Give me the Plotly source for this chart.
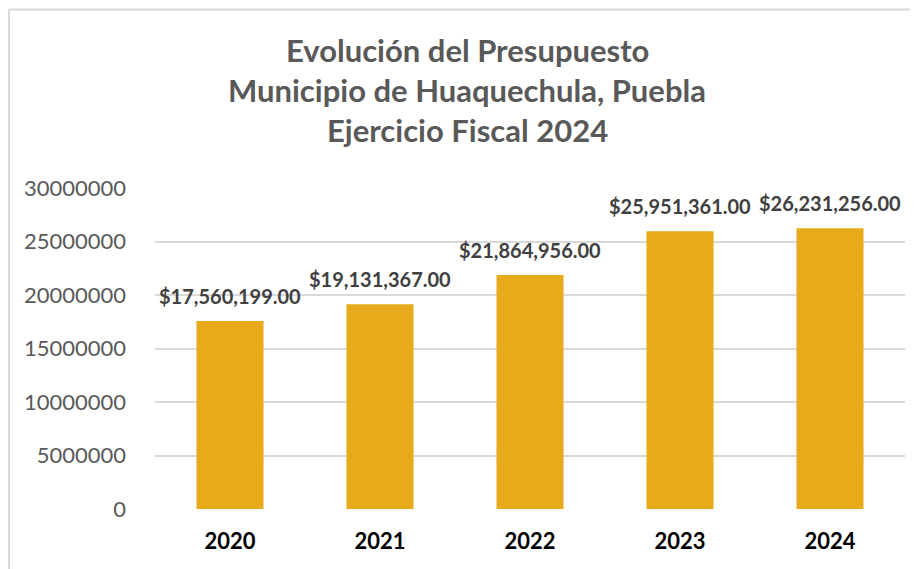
import plotly.graph_objects as go

years = ["2020", "2021", "2022", "2023", "2024"]
budget = [17560199.00, 19131367.00, 21864956.00, 25951361.00, 26231256.00]
y_ticks = [0, 5000000, 10000000, 15000000, 20000000, 25000000, 30000000]
title_lines = ["Evolución del Presupuesto",
               "Municipio de Huaquechula, Puebla",
               "Ejercicio Fiscal 2024"]

W, H = 918, 569
OFF = 8  # page offset of the figure (body margin)
# plot area in page pixels
PL, PR, PT, PB = 155, 905, 188, 509
L, R, T, B = PL - OFF, W - (PR - OFF), PT - OFF, H - (PB - OFF)
PW, PH = PR - PL, PB - PT

def px_x(p):
    return (p - PL) / PW

def px_y(p):
    return (PB - p) / PH

FONT = "Lato"

fig = go.Figure()
fig.add_trace(go.Bar(
    x=years, y=budget,
    marker=dict(color="#E6AA1B", line=dict(width=0)),
    hoverinfo="x+y",
))

annotations = []
for i, v in enumerate(budget):
    annotations.append(dict(
        x=i, y=v, xref="x", yref="y",
        text=f"<b>${v:,.2f}</b>", showarrow=False,
        yanchor="bottom", yshift=11,
        font=dict(family=FONT, size=20, color="#404040"),
    ))

title_y = [50, 90.5, 130.5]
for line, py in zip(title_lines, title_y):
    annotations.append(dict(
        x=px_x(467), y=px_y(py), xref="paper", yref="paper",
        text=f"<b>{line}</b>", showarrow=False,
        xanchor="center", yanchor="middle",
        font=dict(family=FONT, size=31, color="#595959"),
    ))

shapes = [
    dict(type="line", xref="paper", yref="paper",
         x0=px_x(9), x1=px_x(9), y0=px_y(9), y1=px_y(620),
         line=dict(color="#D9D9D9", width=2)),
    dict(type="line", xref="paper", yref="paper",
         x0=px_x(9), x1=px_x(960), y0=px_y(9.5), y1=px_y(9.5),
         line=dict(color="#D9D9D9", width=2)),
]

fig.update_layout(
    width=W, height=H,
    margin=dict(l=L, r=R, t=T, b=B, pad=0),
    paper_bgcolor="white", plot_bgcolor="white",
    showlegend=False,
    bargap=0.553,
    annotations=annotations,
    shapes=shapes,
    xaxis=dict(
        type="category", range=[-0.5, len(years) - 0.5],
        showgrid=False, zeroline=False, showline=False,
        ticks="", ticklabelstandoff=17,
        tickfont=dict(family=FONT, size=22, color="#000000", weight="bold"),
    ),
    yaxis=dict(
        range=[0, 30000000], tickvals=y_ticks,
        ticktext=[str(t) for t in y_ticks],
        showgrid=True, gridcolor="#D9D9D9", gridwidth=1.5,
        zeroline=False, showline=False, ticks="",
        ticklabelstandoff=28,
        tickfont=dict(family=FONT, size=22, color="#595959"),
    ),
)

fig.write_html("out.html")
